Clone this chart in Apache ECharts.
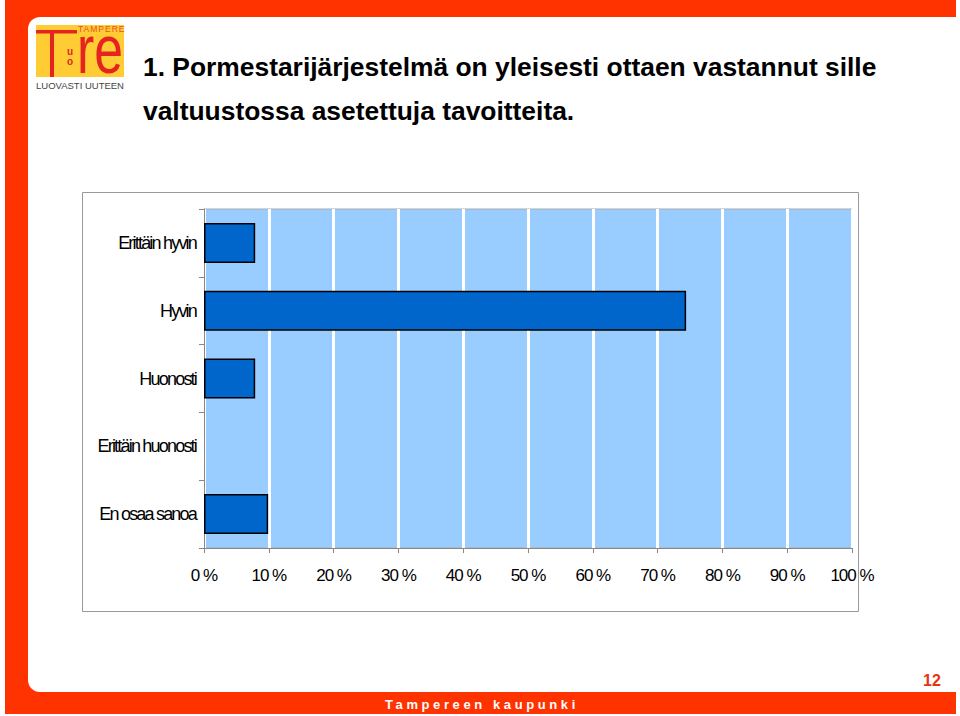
<!DOCTYPE html>
<html>
<head>
<meta charset="utf-8">
<script src="https://cdn.jsdelivr.net/npm/echarts@6/dist/echarts.min.js"></script>
<style>
  html, body { margin: 0; padding: 0; background: #fff; }
  #chart { width: 960px; height: 716px; }
  /* kirjainvälit: tiivis luokille, väljä alatunnisteelle */
  #chart text[style*="tokY"] { letter-spacing: -1.8px; }
  #chart text[style*="tokX"] { letter-spacing: -1px; }
  #chart text[style*="tokFoot"] { letter-spacing: 3.6px; }
  #chart text[style*="tokLogo"] { letter-spacing: 1px; }
</style>
</head>
<body>
<div id="chart"></div>
<script>
// vastausvaihtoehdot
var categories = ['Erittäin hyvin', 'Hyvin', 'Huonosti', 'Erittäin huonosti', 'En osaa sanoa'];
// osuudet %
var shares = [7.9, 74.4, 7.9, 0, 9.9];
var titleLines = ['1. Pormestarijärjestelmä on yleisesti ottaen vastannut sille', 'valtuustossa asetettuja tavoitteita.'];

var orange = '#FF3300';
var logoRed = '#E52421';
var chart = echarts.init(document.getElementById('chart'), null, { renderer: 'svg' });

var option = {
  backgroundColor: '#fff',
  animation: false,
  graphic: [
    // kehys
    { type: 'rect', z: -10, shape: { x: 5, y: 0, width: 951, height: 714 }, style: { fill: orange } },
    { type: 'rect', z: -9, shape: { x: 28, y: 17, width: 960, height: 675, r: 12 }, style: { fill: '#fff' } },
    { type: 'rect', z: -9, shape: { x: 956, y: 0, width: 4, height: 716 }, style: { fill: '#fff' } },
    // logo
    { type: 'rect', shape: { x: 36, y: 25, width: 88, height: 52 }, style: { fill: '#FFCC33' } },
    { type: 'rect', shape: { x: 36, y: 30, width: 41, height: 3.5 }, style: { fill: logoRed } },
    { type: 'rect', shape: { x: 50, y: 30, width: 4, height: 47 }, style: { fill: logoRed } },
    { type: 'text', style: { x: 70, y: 51, text: 'u', font: 'bold 10px "Liberation Sans"', fill: logoRed, align: 'center', verticalAlign: 'middle' } },
    { type: 'text', style: { x: 70, y: 61, text: 'o', font: 'bold 10px "Liberation Sans"', fill: logoRed, align: 'center', verticalAlign: 'middle' } },
    { type: 'text', x: 100, y: 49, scaleX: 0.75, style: { x: 0, y: 0, text: 're', font: '69px "Liberation Sans"', fill: logoRed, align: 'center', verticalAlign: 'middle' } },
    { type: 'text', style: { x: 78, y: 28.5, text: 'TAMPERE', fontFamily: '"Liberation Sans", tokLogo', fontSize: 8.5, fill: '#E8502A', align: 'left', verticalAlign: 'middle' } },
    { type: 'text', style: { x: 36, y: 85, text: 'LUOVASTI UUTEEN', font: '9.5px "Liberation Sans"', fill: '#444', align: 'left', verticalAlign: 'middle' } },
    // otsikko
    { type: 'text', style: { x: 143, y: 67, text: titleLines[0], font: 'bold 26.4px "Liberation Sans"', fill: '#000', verticalAlign: 'middle' } },
    { type: 'text', style: { x: 143, y: 111, text: titleLines[1], font: 'bold 26.4px "Liberation Sans"', fill: '#000', verticalAlign: 'middle' } },
    // kaavion reunus
    { type: 'rect', z: -5, shape: { x: 82.5, y: 192.5, width: 776, height: 419 }, style: { fill: '#fff', stroke: '#999', lineWidth: 1 } },
    // alatunniste
    { type: 'text', style: { x: 932, y: 680, text: '12', font: 'bold 16px "Liberation Sans"', fill: '#E63312', align: 'center', verticalAlign: 'middle' } },
    { type: 'text', style: { x: 385, y: 704, text: 'Tampereen kaupunki', fontFamily: '"Liberation Sans", tokFoot', fontWeight: 'bold', fontSize: 13, fill: '#fff', align: 'left', verticalAlign: 'middle' } }
  ],
  grid: {
    left: 204, top: 209, width: 648, height: 339,
    show: true, backgroundColor: '#99CCFF', borderColor: '#aaa', borderWidth: 1
  },
  xAxis: {
    type: 'value', min: 0, max: 100, interval: 10,
    axisLine: { show: true, lineStyle: { color: '#888' } },
    axisTick: { show: true, length: 5, lineStyle: { color: '#888' } },
    axisLabel: { formatter: '{value} %', fontFamily: '"Liberation Sans", tokX', fontSize: 17, color: '#000', margin: 19 },
    splitLine: { show: true, lineStyle: { color: '#fff', width: 3 } }
  },
  yAxis: {
    type: 'category', data: categories, inverse: true,
    axisLine: { show: true, lineStyle: { color: '#888' } },
    axisTick: { show: true, length: 5, lineStyle: { color: '#888' } },
    axisLabel: { fontFamily: '"Liberation Sans", tokY', fontSize: 18, color: '#000', margin: 8 }
  },
  series: [{
    type: 'bar',
    data: shares.map(function (v) {
      return v === 0 ? { value: v, itemStyle: { borderWidth: 0 } } : v;
    }),
    barWidth: 40,
    itemStyle: { color: '#0066CC', borderColor: '#000', borderWidth: 1.5 }
  }]
};

chart.setOption(option);
</script>
</body>
</html>
